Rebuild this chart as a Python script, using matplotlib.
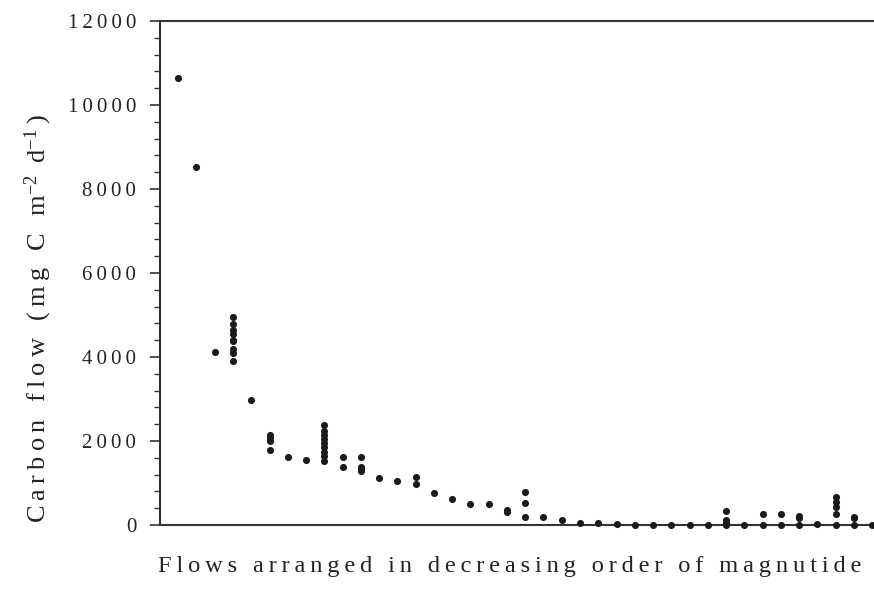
import matplotlib
matplotlib.use("Agg")
import matplotlib.pyplot as plt
from matplotlib.ticker import MultipleLocator, FuncFormatter

plt.rcParams["font.family"] = ["Liberation Serif", "DejaVu Serif"]
plt.rcParams["mathtext.fontset"] = "custom"
plt.rcParams["mathtext.rm"] = "Liberation Serif"
plt.rcParams["mathtext.it"] = "Liberation Serif:italic"

# flows per rank (one list per x position)
flows = [
    [10650],
    [8530],
    [4110],
    [4950, 4780, 4650, 4550, 4400, 4370, 4180, 4100, 3910],
    [2980],
    [2150, 2080, 2000, 1790],
    [1610],
    [1540],
    [2380, 2250, 2150, 2050, 1950, 1850, 1750, 1640, 1520],
    [1630, 1390],
    [1630, 1390, 1330, 1290],
    [1130],
    [1040],
    [1150, 980],
    [755],
    [610],
    [510],
    [490],
    [370, 300],
    [780, 530, 200],
    [185],
    [120],
    [50],
    [40],
    [15],
    [5],
    [5],
    [5],
    [5],
    [5],
    [330, 120, 60, 0],
    [0],
    [255, 0],
    [260, 0],
    [215, 160, 0],
    [30],
    [660, 540, 440, 255, 0],
    [200, 160, 0],
    [0],
]

xlabel = "Flows arranged in decreasing order of magnutide"


def spaced(s):
    # the original uses wide letter spacing
    return "\u2009".join(s)


xs = []
ys = []
for i, vals in enumerate(flows, start=1):
    for v in vals:
        xs.append(i)
        ys.append(v)

fig = plt.figure(figsize=(8.74, 5.98), dpi=100)
ax = fig.add_axes([0.183, 0.122, 0.817, 0.843])

ax.scatter(xs, ys, s=26, color="#1a1a1a", zorder=3, clip_on=False, linewidths=0)

ax.set_xlim(0, 39.1)
ax.set_ylim(0, 12000)
ax.yaxis.set_major_locator(MultipleLocator(2000))
ax.yaxis.set_minor_locator(MultipleLocator(400))
ax.yaxis.set_major_formatter(FuncFormatter(lambda v, p: spaced(f"{v:.0f}")))
ax.set_xticks([])

for side in ["left", "bottom", "top"]:
    ax.spines[side].set_color("#333333")
    ax.spines[side].set_linewidth(1.5)
ax.spines["right"].set_visible(False)

ax.tick_params(axis="y", which="major", direction="out", length=7, width=1.2,
               color="#333333", labelsize=15, labelcolor="#222222", pad=10)
ax.tick_params(axis="y", which="minor", direction="out", length=4, width=1.0,
               color="#333333")

ylab = (spaced("Carbon flow (mg C m") + r"$^{\mathrm{-2}}$" + "\u2009 " +
        "d" + r"$^{\mathrm{-1}}$" + "\u2009)")
ax.set_ylabel(ylab, fontsize=19, color="#222222")
ax.yaxis.set_label_coords(-0.148, 0.41)
ax.set_xlabel(spaced(xlabel), fontsize=17.6, color="#222222")
ax.xaxis.set_label_coords(0.49, -0.062)

fig.savefig("out.png", dpi=100)
